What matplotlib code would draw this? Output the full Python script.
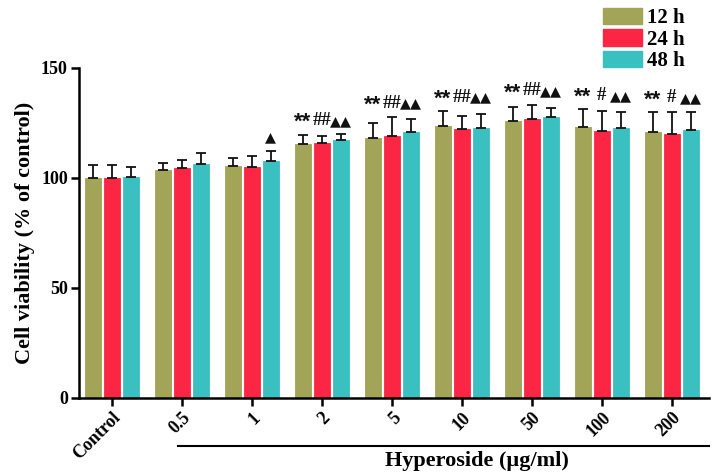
# Cell viability bar chart (hyperoside dose / time)

import numpy as np
import matplotlib
matplotlib.use('Agg')
import matplotlib.pyplot as plt
from matplotlib.patches import Patch

# data
groups = ['Control', '0.5', '1', '2', '5', '10', '50', '100', '200']
series = ['12 h', '24 h', '48 h']
colors = ['#A2A458', '#FB2643', '#3BC0C2']

v12 = [99.8, 103.6, 105.3, 115.3, 118.3, 123.8, 126.0, 123.3, 120.8]
v24 = [99.8, 104.4, 104.8, 115.9, 119.3, 122.3, 126.8, 121.4, 120.0]
v48 = [100.6, 106.5, 107.9, 117.3, 121.0, 122.9, 127.9, 122.9, 121.8]

e12 = [6.0, 3.0, 4.0, 4.2, 6.7, 6.7, 6.4, 8.0, 9.4]
e24 = [6.0, 4.0, 5.2, 3.3, 8.5, 6.0, 6.5, 9.0, 9.9]
e48 = [4.5, 4.7, 4.5, 2.7, 5.6, 6.0, 3.8, 7.3, 8.4]

m12 = ['', '', '', '**', '**', '**', '**', '**', '**']
m24 = ['', '', '', '##', '##', '##', '##', '#', '#']
m48 = ['', '', '\u25B2', '\u25B2\u25B2', '\u25B2\u25B2', '\u25B2\u25B2',
       '\u25B2\u25B2', '\u25B2\u25B2', '\u25B2\u25B2']

values = [v12, v24, v48]
errors = [e12, e24, e48]
marks = [m12, m24, m48]

serif = ['Liberation Serif', 'DejaVu Serif']
plt.rcParams['font.family'] = serif
plt.rcParams['font.weight'] = 'bold'

fig = plt.figure(figsize=(7.2, 4.76), dpi=100)
ax = fig.add_axes([79 / 720, 78 / 476, 630 / 720, 330 / 476])

x = np.arange(len(groups))
width = 0.23
step = 0.27

tops = np.max([np.array(v) + np.array(e) for v, e in zip(values, errors)], axis=0)

# font per marker kind: stars, hashes, triangles
mark_style = [
    dict(family=['Liberation Sans', 'DejaVu Sans'], fontsize=16, dy=0.6),
    dict(family=['Liberation Serif', 'DejaVu Serif'], fontsize=13.5, dy=2.4),
    dict(family=['DejaVu Sans'], fontsize=10.3, dy=2.8),
]

for i, (vals, errs, col, mk) in enumerate(zip(values, errors, colors, marks)):
    xi = x + (i - 1) * step
    ax.bar(xi, vals, width, color=col, edgecolor=col, linewidth=0.6, zorder=2)
    ax.errorbar(xi, vals, yerr=[np.zeros(len(vals)), errs], fmt='none',
                ecolor='#111111', elinewidth=1.3, capsize=3.5, capthick=1.3,
                zorder=3)
    st = mark_style[i]
    for j, txt in enumerate(mk):
        if txt:
            ax.text(xi[j], tops[j] + st['dy'], txt, ha='center', va='bottom',
                    fontsize=st['fontsize'], fontweight='bold',
                    family=st['family'], color='#111111')

ax.set_xlim(-0.47, 8.53)
ax.set_ylim(0, 150)
ax.set_yticks([0, 50, 100, 150])
ax.set_xticks(x)
ax.set_xticklabels(groups, rotation=45, ha='right', rotation_mode='anchor',
                   fontsize=13, fontweight='bold')
for lab in ax.get_yticklabels():
    lab.set_fontsize(13)
    lab.set_fontweight('bold')

ax.spines['top'].set_visible(False)
ax.spines['right'].set_visible(False)
ax.spines['left'].set_linewidth(1.8)
ax.spines['bottom'].set_linewidth(1.8)
ax.tick_params(axis='both', direction='out', length=6, width=1.8, pad=2)

ax.set_ylabel('Cell viability (% of control)', fontsize=16, fontweight='bold',
              labelpad=4)

# bracket under the hyperoside doses
trans = ax.get_xaxis_transform()
ax.plot([0.95, 8.53], [-0.145, -0.145], color='black', lw=1.5,
        transform=trans, clip_on=False)
ax.text(5.22, -0.19, 'Hyperoside (\u00b5g/ml)', transform=trans, ha='center',
        va='center', fontsize=16, fontweight='bold')

handles = [Patch(facecolor=c, edgecolor=c) for c in colors]
fig.legend(handles, series, loc='upper left', bbox_to_anchor=(590 / 720, 1.01),
           frameon=False, handlelength=1.9, handleheight=0.85,
           labelspacing=0.05, handletextpad=0.25, borderaxespad=0.2,
           prop={'weight': 'bold', 'size': 15})

fig.savefig('out.png', dpi=100)
